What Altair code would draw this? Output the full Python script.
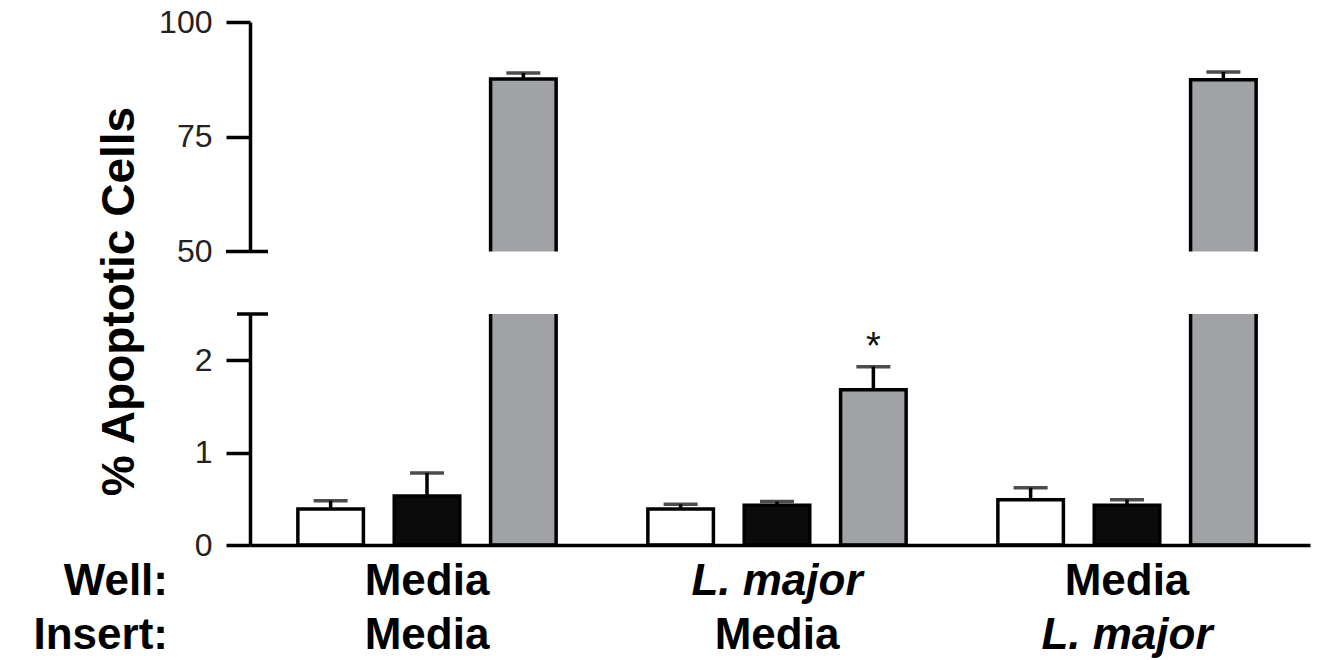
import altair as alt
import pandas as pd

# ---------------- data ----------------
groups = ["Media|Media", "L. major|Media", "Media|L. major"]
well_labels = ["Media", "L. major", "Media"]
insert_labels = ["Media", "Media", "L. major"]
well_italic = [False, True, False]
insert_italic = [False, False, True]
series = ["Series A", "Series B", "Series C"]
series_colors = ["#ffffff", "#0b0b0b", "#a1a2a6"]

white_vals = [0.39, 0.39, 0.49]
white_err = [0.09, 0.05, 0.13]
black_vals = [0.53, 0.43, 0.43]
black_err = [0.25, 0.04, 0.06]
gray_vals = [87.6, 1.68, 87.4]
gray_err = [1.3, 0.25, 1.7]

star_groups = ["L. major|Media"]
star_series = ["Series C"]

y_ticks = [0, 1, 2, 50, 75, 100]
y_domain = [0, 2.5, 50, 100]
break_low = 2.5
break_high = 50
row_headers = ["Well:", "Insert:"]

# ---------------- frames ----------------
rows = []
for s, vals, errs in zip(series, [white_vals, black_vals, gray_vals], [white_err, black_err, gray_err]):
    for g, v, e in zip(groups, vals, errs):
        rows.append({"group": g, "series": s, "value": v, "err": e, "upper": v + e})
df = pd.DataFrame(rows)
star_df = df[df["group"].isin(star_groups) & df["series"].isin(star_series)].copy()
star_df["star"] = "*"

lab_rows = []
for g, w, i, wi, ii in zip(groups, well_labels, insert_labels, well_italic, insert_italic):
    lab_rows.append({"group": g, "text": w, "row": 0, "italic": wi})
    lab_rows.append({"group": g, "text": i, "row": 1, "italic": ii})
lab_df = pd.DataFrame(lab_rows)
head_df = pd.DataFrame({"text": row_headers, "row": [0, 1]})

# ---------------- layout ----------------
W, H = 1060, 523
FONT = "Liberation Sans"

xscale = alt.Scale(domain=groups, paddingInner=0, paddingOuter=0.0143, align=0.2)
xo = alt.XOffset("series:N", scale=alt.Scale(domain=series, paddingInner=0.32, paddingOuter=0.476))
yscale = alt.Scale(domain=y_domain, range=[H, 292, 229.5, 0])

x_enc = alt.X("group:N", scale=xscale,
              axis=alt.Axis(labels=False, ticks=False, title=None, domainColor="black",
                            domainWidth=3.5, zindex=1))

y_axis = alt.Axis(values=y_ticks, labelExpr="format(datum.value, 'd')", tickSize=24,
                  tickWidth=3.5, tickColor="black", domainColor="black", domainWidth=3.5,
                  labelFontSize=32, labelFont=FONT, labelColor="#222222", labelPadding=14,
                  grid=False, title="% Apoptotic Cells", titleFontSize=46, titleFont=FONT,
                  titleFontWeight="bold", titleColor="black", titleAngle=270, titleX=-117,
                  titleY=279, titleAlign="center", titleBaseline="alphabetic", zindex=0)

base = alt.Chart(df)

bars = base.mark_bar(stroke="black", strokeWidth=3.5).encode(
    x=x_enc, xOffset=xo,
    y=alt.Y("value:Q", scale=yscale, axis=y_axis),
    color=alt.Color("series:N", scale=alt.Scale(domain=series, range=series_colors), legend=None),
)

err_rule = base.mark_rule(color="black", strokeWidth=3.5).encode(
    x=alt.X("group:N", scale=xscale), xOffset=xo,
    y=alt.Y("value:Q", scale=yscale), y2="upper:Q",
)
err_cap = base.mark_tick(color="black", thickness=3.5, size=34).encode(
    x=alt.X("group:N", scale=xscale), xOffset=xo,
    y=alt.Y("upper:Q", scale=yscale),
)

gap = alt.Chart(pd.DataFrame({"a": [0]})).mark_rect(color="white").encode(
    x=alt.value(-30), x2=alt.value(W + 20),
    y=alt.Y(datum=break_low, scale=yscale), y2=alt.datum(break_high),
)

brk_hi = alt.Chart(pd.DataFrame({"a": [0]})).mark_rule(color="black", strokeWidth=3.5).encode(
    x=alt.value(-24), x2=alt.value(18), y=alt.Y(datum=break_high, scale=yscale))
brk_lo = alt.Chart(pd.DataFrame({"a": [0]})).mark_rule(color="black", strokeWidth=3.5).encode(
    x=alt.value(-13), x2=alt.value(18), y=alt.Y(datum=break_low, scale=yscale))

star = alt.Chart(star_df).mark_text(text="*", fontSize=38, font=FONT, color="#111111",
                                    baseline="alphabetic", dy=-8).encode(
    x=alt.X("group:N", scale=xscale), xOffset=xo,
    y=alt.Y("upper:Q", scale=yscale),
)

row_y = [573, 627]
label_layers = []
for r, yy in enumerate(row_y):
    for it in [False, True]:
        label_layers.append(
            alt.Chart(lab_df).transform_filter(
                f"datum.row == {r} && datum.italic == {'true' if it else 'false'}"
            ).mark_text(fontSize=44, font=FONT, fontWeight="bold",
                        fontStyle="italic" if it else "normal", color="black",
                        baseline="alphabetic", align="center").encode(
                x=alt.X("group:N", scale=xscale), y=alt.value(yy), text="text:N")
        )
    label_layers.append(
        alt.Chart(head_df).transform_filter(f"datum.row == {r}").mark_text(
            fontSize=44, font=FONT, fontWeight="bold", color="black",
            baseline="alphabetic", align="right").encode(
            x=alt.value(-82), y=alt.value(yy), text="text:N")
    )

chart = alt.layer(bars, err_rule, err_cap, gap, brk_hi, brk_lo, star, *label_layers).properties(
    width=W, height=H,
    autosize=alt.AutoSizeParams(type="none"),
    padding={"left": 242, "top": 14, "right": 3, "bottom": 118},
).configure(font=FONT, view=alt.ViewConfig(stroke=None))

chart.save("out.html", embed_options={"renderer": "svg", "actions": False})
